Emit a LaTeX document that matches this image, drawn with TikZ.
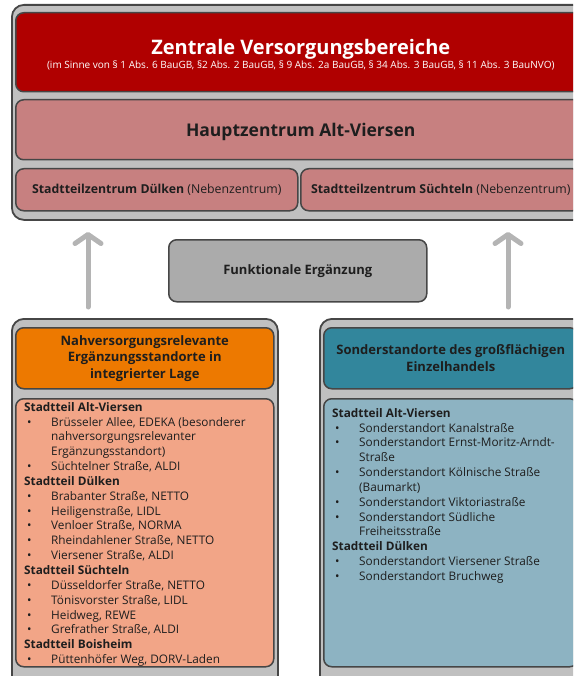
\documentclass[tikz,border=0pt]{standalone}
\usepackage{fontspec}
\setmainfont{Open Sans}
\usetikzlibrary{arrows.meta}

\definecolor{rahmen}{RGB}{70,70,70}
\definecolor{grundgrau}{RGB}{192,192,192}
\definecolor{zvbrot}{RGB}{176,0,0}
\definecolor{zentrumrosa}{RGB}{199,128,128}
\definecolor{funkgrau}{RGB}{171,171,171}
\definecolor{pfeilgrau}{RGB}{180,180,180}
\definecolor{nvorange}{RGB}{237,121,0}
\definecolor{nvlachs}{RGB}{242,165,135}
\definecolor{sotuerkis}{RGB}{50,134,156}
\definecolor{sohellblau}{RGB}{141,179,194}
\definecolor{schrift}{RGB}{30,30,30}

\newlength{\pktbreite}
\setlength{\pktbreite}{27pt}
\newcommand{\pkt}[1]{\makebox[\pktbreite][l]{\hspace{3pt}\textbullet}#1}
\newcommand{\weiter}[1]{\hspace*{\pktbreite}#1}

\tikzset{
  grundbox/.style={draw=rahmen, line width=1.8pt, fill=grundgrau, rounded corners=12pt, anchor=north west, inner sep=0pt},
  feld/.style={draw=rahmen, line width=1.5pt, rounded corners=8pt, anchor=north west, inner sep=0pt, align=center, text=schrift},
  liste/.style={anchor=north west, inner sep=0pt, align=left, text=schrift, font=\fontsize{11.8}{14.85}\selectfont},
  hochpfeil/.style={draw=pfeilgrau, line width=5pt, line cap=round, -{Straight Barb[round,length=9pt,width=26pt]}}
}

\begin{document}
\begin{tikzpicture}[x=1pt,y=-1pt]
\useasboundingbox (0,0) rectangle (573,676);
\clip (0,0) rectangle (573,676);

% Zentrale Versorgungsbereiche
\node[grundbox, minimum width=600pt, minimum height=215pt] (oben) at (11,4) {};
\node[feld, fill=zvbrot, minimum width=570pt, minimum height=79pt] (zvb) at (15,12) {};
\node[text=white, align=center, inner sep=0pt] (zvbtext) at ([yshift=-2.5pt]zvb.center)
  {{\fontsize{20}{24}\selectfont\bfseries Zentrale Versorgungsbereiche}\\[1pt]
   {\fontsize{10}{12}\selectfont (im Sinne von \S\ 1 Abs. 6 BauGB, \S2 Abs. 2 BauGB, \S\ 9 Abs. 2a BauGB, \S\ 34 Abs. 3 BauGB, \S\ 11 Abs. 3 BauNVO)}};
\node[feld, fill=zentrumrosa, minimum width=570pt, minimum height=60pt, text height=17pt,
  font=\fontsize{17.5}{20}\selectfont\bfseries] (haupt) at (15,99) {Hauptzentrum Alt-Viersen};
\node[feld, fill=zentrumrosa, minimum width=282pt, minimum height=42pt,
  font=\fontsize{12.3}{14}\selectfont] (duelken) at (15,168) {\textbf{Stadtteilzentrum Dülken} (Nebenzentrum)};
\node[feld, fill=zentrumrosa, minimum width=280pt, minimum height=42pt,
  font=\fontsize{12.3}{14}\selectfont] (suechteln) at (300,168) {\textbf{Stadtteilzentrum Süchteln} (Nebenzentrum)};

% Mitte
\node[feld, fill=funkgrau, minimum width=258pt, minimum height=62pt,
  font=\fontsize{13}{15}\selectfont\bfseries] (funktion) at (168,239) {Funktionale Ergänzung};
\coordinate (fussL) at (88,307);
\coordinate (spitzeL) at (88,232);
\coordinate (fussR) at (508,307);
\coordinate (spitzeR) at (508,232);
\draw[hochpfeil] (fussL) -- (spitzeL);
\draw[hochpfeil] (fussR) -- (spitzeR);

% Nahversorgung
\node[grundbox, minimum width=266pt, minimum height=380pt] (links) at (11,318) {};
\node[feld, fill=nvorange, minimum width=258pt, minimum height=61pt,
  font=\fontsize{13}{16.5}\selectfont\bfseries] (nvkopf) at (15,327)
  {Nahversorgungsrelevante\\Ergänzungsstandorte in\\integrierter Lage};
\node[feld, fill=nvlachs, minimum width=258pt, minimum height=268pt] (nvfeld) at (15,398) {};
\node[liste] (nvliste) at (24,402)
  {\textbf{Stadtteil Alt-Viersen}\\
   \pkt{Brüsseler Allee, EDEKA (besonderer}\\
   \weiter{nahversorgungsrelevanter}\\
   \weiter{Ergänzungsstandort)}\\
   \pkt{Süchtelner Straße, ALDI}\\
   \textbf{Stadtteil Dülken}\\
   \pkt{Brabanter Straße, NETTO}\\
   \pkt{Heiligenstraße, LIDL}\\
   \pkt{Venloer Straße, NORMA}\\
   \pkt{Rheindahlener Straße, NETTO}\\
   \pkt{Viersener Straße, ALDI}\\
   \textbf{Stadtteil Süchteln}\\
   \pkt{Düsseldorfer Straße, NETTO}\\
   \pkt{Tönisvorster Straße, LIDL}\\
   \pkt{Heidweg, REWE}\\
   \pkt{Grefrather Straße, ALDI}\\
   \textbf{Stadtteil Boisheim}\\
   \pkt{Püttenhöfer Weg, DORV-Laden}};

% Sonderstandorte
\node[grundbox, minimum width=280pt, minimum height=380pt] (rechts) at (319,318) {};
\node[feld, fill=sotuerkis, minimum width=254pt, minimum height=61pt,
  font=\fontsize{13}{16.5}\selectfont\bfseries] (sokopf) at (323,327)
  {Sonderstandorte des großflächigen\\Einzelhandels};
\node[feld, fill=sohellblau, minimum width=254pt, minimum height=268pt] (sofeld) at (323,398) {};
\node[liste] (soliste) at (332,408)
  {\textbf{Stadtteil Alt-Viersen}\\
   \pkt{Sonderstandort Kanalstraße}\\
   \pkt{Sonderstandort Ernst-Moritz-Arndt-}\\
   \weiter{Straße}\\
   \pkt{Sonderstandort Kölnische Straße}\\
   \weiter{(Baumarkt)}\\
   \pkt{Sonderstandort Viktoriastraße}\\
   \pkt{Sonderstandort Südliche}\\
   \weiter{Freiheitsstraße}\\
   \textbf{Stadtteil Dülken}\\
   \pkt{Sonderstandort Viersener Straße}\\
   \pkt{Sonderstandort Bruchweg}};

\end{tikzpicture}
\end{document}
